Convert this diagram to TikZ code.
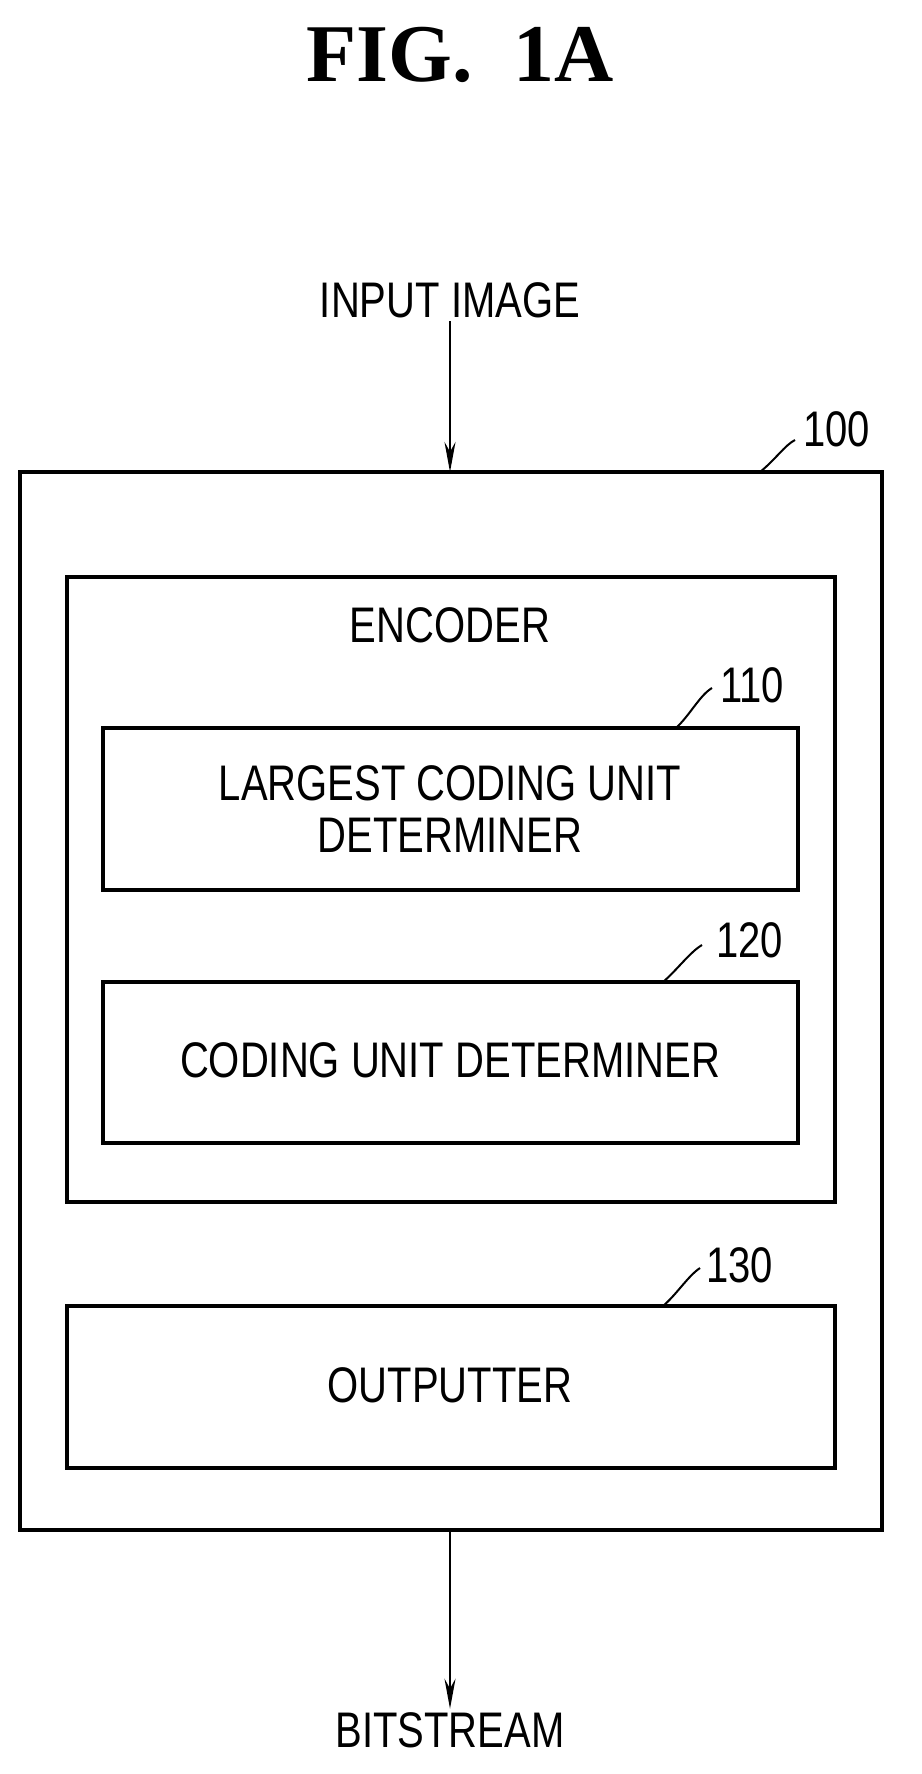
\documentclass[tikz,border=0pt]{standalone}
\usepackage{fontspec}
\usetikzlibrary{arrows.meta}
\setmainfont{Liberation Sans}[FakeStretch=0.8]
\newfontfamily\figfont{Liberation Serif}
\begin{document}
\begin{tikzpicture}[x=1pt,y=-1pt,
  blk/.style={draw,line width=3.6pt,inner sep=0pt},
  lbl/.style={font=\fontsize{50}{58}\selectfont,align=center},
  tag/.style={font=\fontsize{50}{58}\selectfont,anchor=south west,inner sep=0pt},
  lead/.style={line width=2pt},
  flow/.style={line width=2.4pt,-{Stealth[length=30pt,width=11pt]}}]
\useasboundingbox (0,0) rectangle (921,1774);

\node[font=\figfont\bfseries\fontsize{82}{92}\selectfont] (fig) at (460,55) {FIG.\ \ 1A};

% outer device
\draw[blk] (20,472) rectangle (882,1530);
\coordinate (devtop) at (450,472);
\coordinate (devbot) at (450,1530);
\node[lbl] (in) at (450,300) {INPUT IMAGE};
\node[lbl] (out) at (450,1730) {BITSTREAM};
\draw[flow] (in.south) -- (devtop);
\draw[flow] (devbot) -- (out.north);
\draw[lead] (760,472) .. controls (775,460) and (785,445) .. (795,440) coordinate (t100);
\node[tag] (n100) at (803,447) {100};

% encoder
\draw[blk] (67,577) rectangle (835,1202);
\node[lbl] (enc) at (450,625) {ENCODER};

\draw[blk] (103,728) rectangle (798,890);
\node[lbl] (lcu) at (450,809) {LARGEST CODING UNIT\\[-6pt]DETERMINER};
\draw[lead] (676,728) .. controls (690,715) and (700,695) .. (712,688);
\node[tag] (n110) at (720,703) {110};

\draw[blk] (103,982) rectangle (798,1143);
\node[lbl] (cud) at (450,1060) {CODING UNIT DETERMINER};
\draw[lead] (663,982) .. controls (677,970) and (690,952) .. (702,945);
\node[tag] (n120) at (716,958) {120};

% outputter
\draw[blk] (67,1306) rectangle (835,1468);
\node[lbl] (outp) at (450,1385) {OUTPUTTER};
\draw[lead] (663,1306) .. controls (677,1294) and (688,1276) .. (700,1268);
\node[tag] (n130) at (706,1283) {130};
\end{tikzpicture}
\end{document}
